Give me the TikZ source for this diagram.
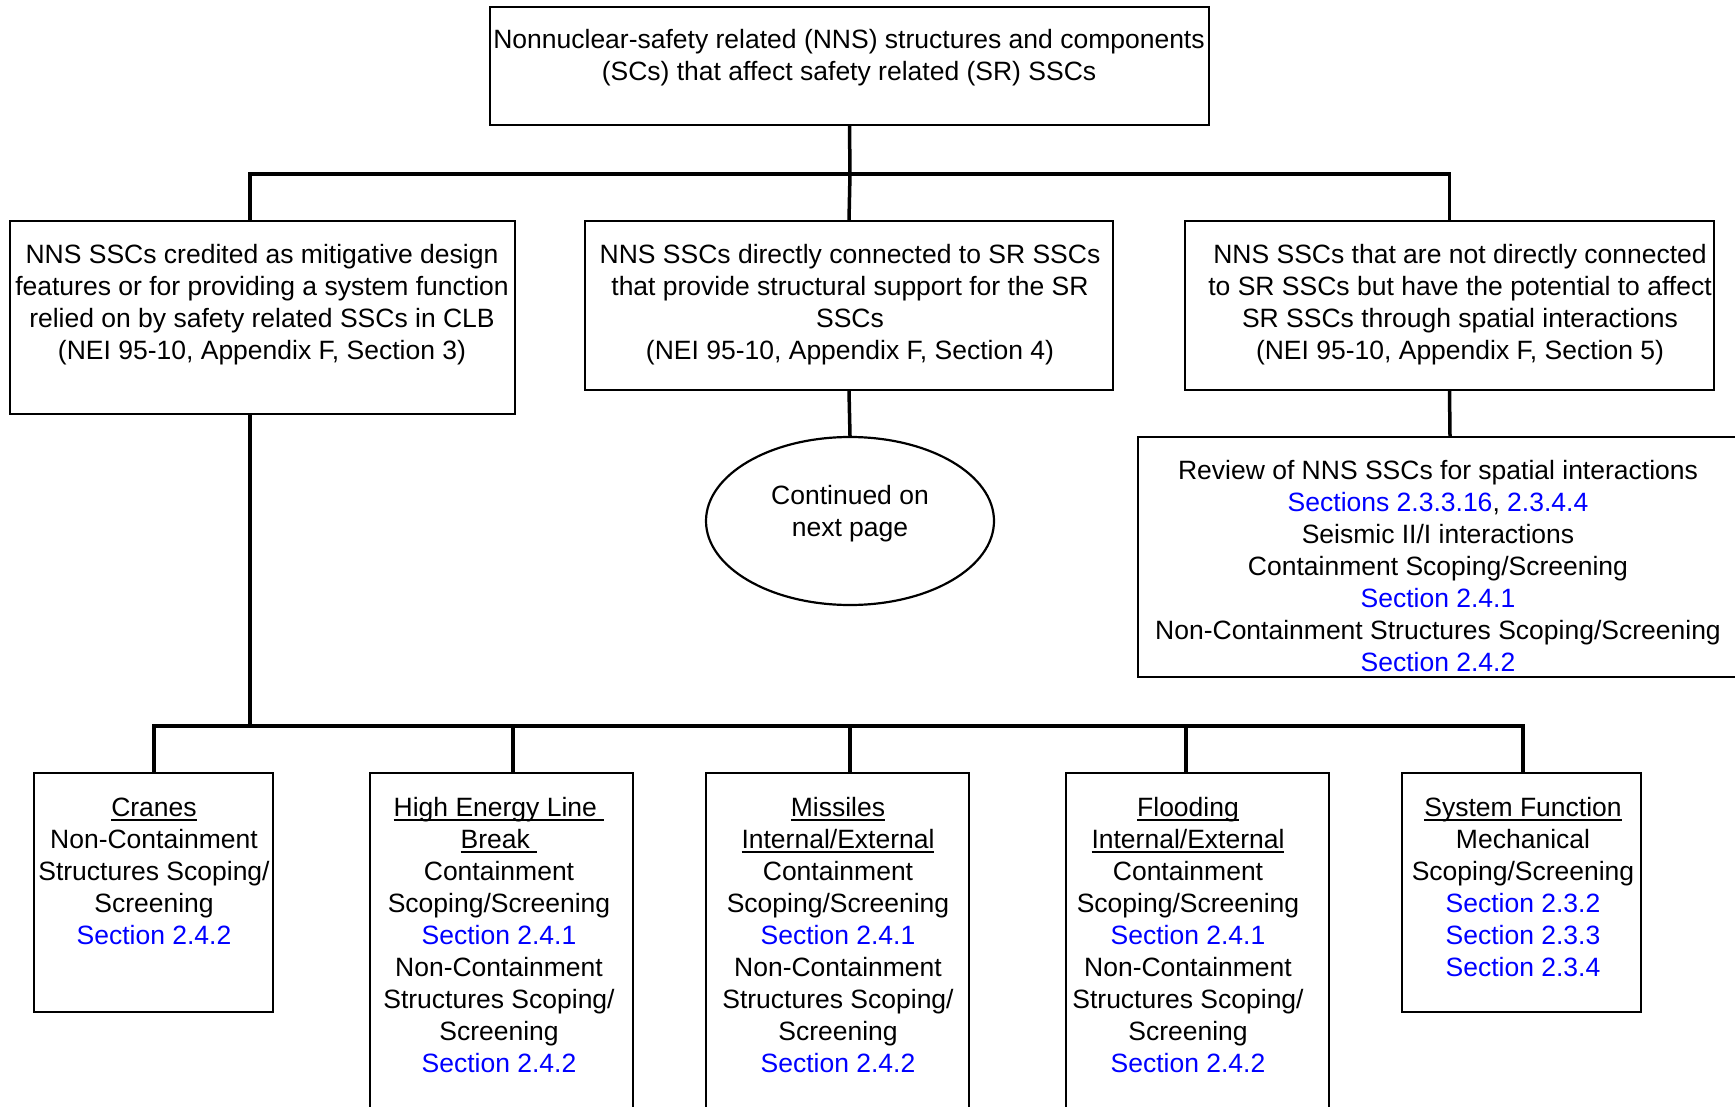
\documentclass[tikz,border=0pt]{standalone}
\usepackage{fontspec}
\setmainfont{Liberation Sans}
\usetikzlibrary{calc,shapes.geometric}
\definecolor{secblue}{RGB}{0,0,255}
\newcommand\bl[1]{\textcolor{secblue}{#1}}
\newcommand\ulx[1]{\setbox0\hbox{#1}\rlap{\rule[-4pt]{\wd0}{2pt}}\box0}
\begin{document}
\begin{tikzpicture}[x=1pt,y=-1pt,
  box/.style={draw=black,line width=2.2pt,rectangle,inner sep=0pt},
  conn/.style={draw=black,line width=3.5pt},
  txt/.style={inner sep=0pt,align=center,anchor=base,font=\fontsize{26.5}{32}\selectfont}]
\useasboundingbox (0,0) rectangle (1735,1107);
\fill[white] (0,0) rectangle (1735,1107);
\clip (0,0) rectangle (1735,1107);

% boxes
\node[box,minimum width=719pt,minimum height=118pt] (top) at (849.5,66) {};
\node[box,minimum width=505pt,minimum height=193pt] (boxA) at (262.5,317.5) {};
\node[box,minimum width=528pt,minimum height=169pt] (boxB) at (849,305.5) {};
\node[box,minimum width=529pt,minimum height=169pt] (boxC) at (1449.5,305.5) {};
\node[box,ellipse,minimum width=288pt,minimum height=168pt] (cont) at (850,521) {};
\node[box,minimum width=624pt,minimum height=240pt] (rev) at (1450,557) {};
\node[box,minimum width=239pt,minimum height=239pt] (cranes) at (153.5,892.5) {};
\node[box,minimum width=263pt,minimum height=380pt] (helb) at (501.5,963) {};
\node[box,minimum width=263pt,minimum height=380pt] (miss) at (837.5,963) {};
\node[box,minimum width=263pt,minimum height=380pt] (flood) at (1197.5,963) {};
\node[box,minimum width=239pt,minimum height=239pt] (sysf) at (1521.5,892.5) {};

% texts (anchor = baseline of last line)
\node[txt] (ttop) at (849,80.5) {Nonnuclear-safety related (NNS) structures and components\\(SCs) that affect safety related (SR) SSCs};
\node[txt] (tA) at (262,359.5) {NNS SSCs credited as mitigative design\\features or for providing a system function\\relied on by safety related SSCs in CLB\\(NEI 95-10, Appendix F, Section 3)};
\node[txt] (tB) at (850,359.5) {NNS SSCs directly connected to SR SSCs\\that provide structural support for the SR\\SSCs\\(NEI 95-10, Appendix F, Section 4)};
\node[txt] (tC) at (1460,359.5) {NNS SSCs that are not directly connected\\to SR SSCs but have the potential to affect\\SR SSCs through spatial interactions\\(NEI 95-10, Appendix F, Section 5)};
\node[txt] (tcont) at (850,536.5) {Continued on\\next page};
\node[txt] (trev) at (1438,671.5) {Review of NNS SSCs for spatial interactions\\\bl{Sections 2.3.3.16}, \bl{2.3.4.4}\\Seismic II/I interactions\\Containment Scoping/Screening\\\bl{Section 2.4.1}\\Non-Containment Structures Scoping/Screening\\\bl{Section 2.4.2}};
\node[txt] (tcr) at (154,944.5) {\ulx{Cranes}\\Non-Containment\\Structures Scoping/\\Screening\\\bl{Section 2.4.2}};
\node[txt] (the) at (499,1072.5) {\ulx{High Energy Line\ }\\\ulx{Break\ }\\Containment\\Scoping/Screening\\\bl{Section 2.4.1}\\Non-Containment\\Structures Scoping/\\Screening\\\bl{Section 2.4.2}};
\node[txt] (tmi) at (838,1072.5) {\ulx{Missiles}\\\ulx{Internal/External}\\Containment\\Scoping/Screening\\\bl{Section 2.4.1}\\Non-Containment\\Structures Scoping/\\Screening\\\bl{Section 2.4.2}};
\node[txt] (tfl) at (1188,1072.5) {\ulx{Flooding}\\\ulx{Internal/External}\\Containment\\Scoping/Screening\\\bl{Section 2.4.1}\\Non-Containment\\Structures Scoping/\\Screening\\\bl{Section 2.4.2}};
\node[txt] (tsf) at (1523,976.5) {\ulx{System Function}\\Mechanical\\Scoping/Screening\\\bl{Section 2.3.2}\\\bl{Section 2.3.3}\\\bl{Section 2.3.4}};

% connectors
\coordinate (bus1) at (850,174);
\coordinate (dA) at (250,174);
\draw[conn] (top.south) -- (bus1);
\draw[conn] (dA |- boxA.north) -- (dA) -| (boxC.north);
\draw[conn] (bus1) -- (boxB.north);
\draw[conn] (boxB.south) -- (cont.north);
\draw[conn] (boxC.south) -- (rev.north);

\coordinate (bus2) at (250,726);
\coordinate (d1) at (154,726);
\coordinate (d2) at (513,726);
\coordinate (d3) at (850,726);
\coordinate (d4) at (1186,726);
\coordinate (d5) at (1523,726);
\draw[conn] (bus2 |- boxA.south) -- (bus2);
\draw[conn] (d1 |- cranes.north) -- (d1) -- (d5) -- (d5 |- sysf.north);
\draw[conn] (d2) -- (d2 |- helb.north);
\draw[conn] (d3) -- (d3 |- miss.north);
\draw[conn] (d4) -- (d4 |- flood.north);
\end{tikzpicture}
\end{document}
